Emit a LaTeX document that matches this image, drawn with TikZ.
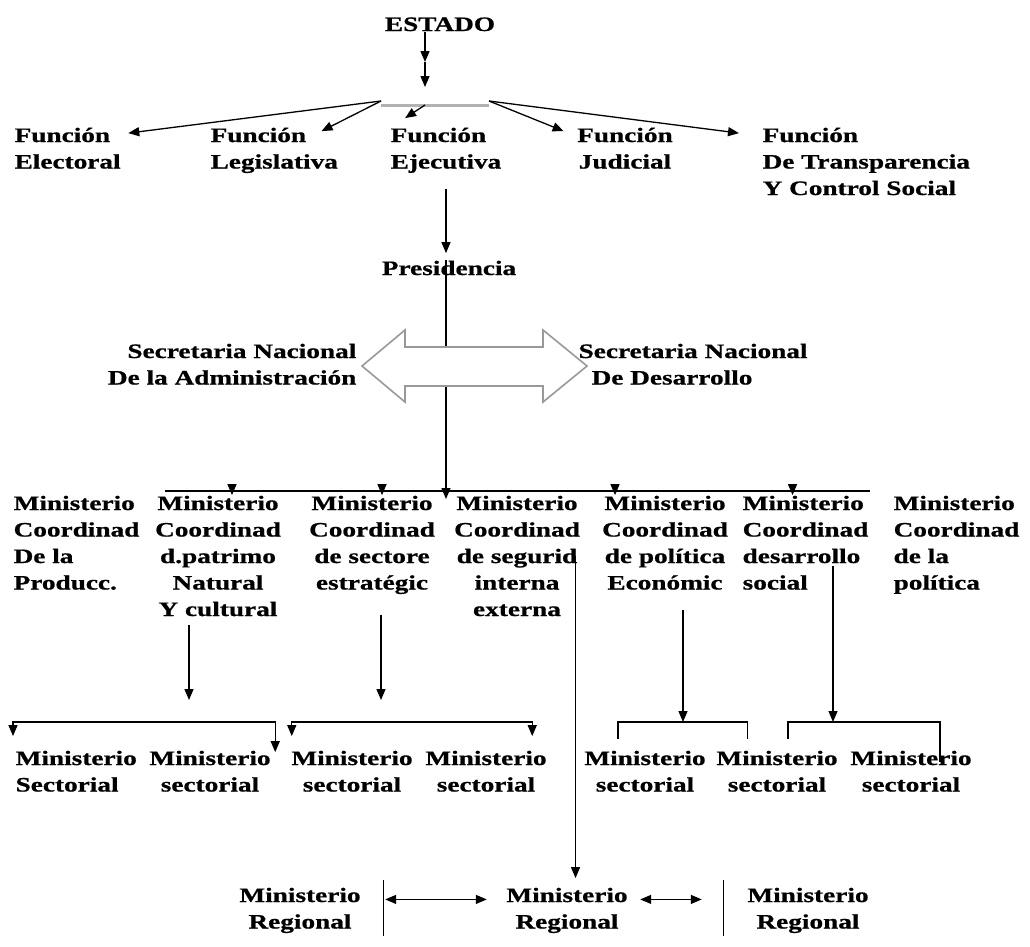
\documentclass[tikz,border=0pt]{standalone}
\usepackage{fontspec}
\setmainfont{Liberation Serif}[FakeStretch=1.33,BoldFeatures={FakeBold=0.8}]
\usetikzlibrary{arrows.meta,calc}

\begin{document}
\begin{tikzpicture}[x=1pt,y=-1pt,line width=1.3pt,>={Triangle[length=11pt,width=9pt]},
    every node/.style={inner sep=0pt,font=\bfseries\fontsize{20.5}{26.5}\selectfont}]
    \useasboundingbox (0,0) rectangle (1030,946);
    % estado y funciones
    \node[anchor=base] (E) at (440,31) {ESTADO};
    \node[anchor=base west,align=left] (F1) at (14,168.5) {Función\\Electoral};
    \node[anchor=base west,align=left] (F2) at (210,168.5) {Función\\Legislativa};
    \node[anchor=base,align=left] (F3) at (446,168.5) {Función\\Ejecutiva};
    \node[anchor=base,align=center] (F4) at (625,168.5) {Función\\Judicial};
    \node[anchor=base west,align=left] (F5) at (762,195) {Función\\De Transparencia\\Y Control Social};
    \coordinate (B) at (425,105);
    \coordinate (BL) at (381,101);
    \coordinate (BR) at (489,101);
    \coordinate (E1) at (425,62);
    \draw[->] (E.south -| B) -- (E1);
    \draw[->] (E1) -- ($(B)+(0,-18)$);
    \draw[gray!60,line width=3pt] (BL |- B) -- (BR |- B);
    \draw[->] (BL) -- ($(F1.north east)+(7,6)$);
    \draw[->] (BL) -- ($(F2.north east)+(-17,4)$);
    \draw[->] (B) -- ($(F3.north west)+(15,-9)$);
    \draw[->] (BR) -- ($(F4.north west)+(-13,4)$);
    \draw[->] (BR) -- ($(F5.north west)+(-23,6)$);

    % presidencia y secretarias
    \node[anchor=base] (P) at (449,275) {Presidencia};
    \coordinate (BM1) at (165,491);
    \coordinate (BM2) at (870,491);
    \draw[->] ($(F3.south)+(0,15)$) -- ($(F3.south |- P.north)+(0,-7)$);
    \draw[->] (F3.south |- P.north) -- ($(F3.south |- BM1)+(0,8)$);
    \draw[gray!80,line width=1.6pt,fill=white] (362,366) -- (405,330) -- (405,347) -- (543,347) -- (543,330)
        -- (587,366) -- (543,402) -- (543,386) -- (405,386) -- (405,402) -- cycle;
    \node[anchor=base east,align=right] (S1) at (357,384.5) {Secretaria Nacional\\De la Administración};
    \node[anchor=base west,align=left] (S2) at (578,384.5) {Secretaria Nacional\\\hspace*{13pt}De Desarrollo};

    % ministerios coordinadores
    \draw (BM1) -- (BM2);
    \node[anchor=base west,align=left] (M1) at (13,589.5) {Ministerio\\Coordinad\\De la\\Producc.};
    \node[anchor=base,align=center] (M2) at (218,616) {Ministerio\\Coordinad\\d.patrimo\\Natural\\Y cultural};
    \node[anchor=base,align=center] (M3) at (372,589.5) {Ministerio\\Coordinad\\de sectore\\estratégic};
    \node[anchor=base,align=center] (M4) at (517,616) {Ministerio\\Coordinad\\de segurid\\interna\\externa};
    \node[anchor=base,align=center] (M5) at (665,589.5) {Ministerio\\Coordinad\\de política\\Económic};
    \node[anchor=base west,align=left] (M6) at (742,589.5) {Ministerio\\Coordinad\\desarrollo\\social};
    \node[anchor=base west,align=left] (M7) at (893,589.5) {Ministerio\\Coordinad\\de la\\política};
    \foreach \n/\dx in {M2/14,M3/10,M5/-50,M6/-13}
        \draw[->] ($(\n.north |- BM1)+(\dx,0)$) -- ($(\n.north)+(\dx,0)$);

    % ministerios sectoriales
    \node[anchor=base west,align=left] (MS1) at (15,791.5) {Ministerio\\Sectorial};
    \foreach \n/\x in {2/210,3/352,4/486,5/645,6/777,7/911}
        \node[anchor=base,align=center] (MS\n) at (\x,791.5) {Ministerio\\sectorial};
    \coordinate (K1) at (189,722);
    \coordinate (K2) at (381,722);
    \coordinate (K3) at (683,722);
    \coordinate (K4) at (833,722);
    \draw[->] ($(K1 |- M2.south)+(0,8)$) -- ($(K1)+(0,-22)$);
    \draw[->] ($(K2 |- M3.south)+(0,20)$) -- ($(K2)+(0,-22)$);
    \draw[->] ($(K3 |- M5.south)+(0,20)$) -- (K3);
    \draw[->] ($(K4 |- M6.south)+(0,-24)$) -- (K4);
    \draw[<->] ($(MS1.north west)+(-2,-14)$) |- (K1) -| ($(MS2.north east)+(4,2)$);
    \draw[<->] ($(MS3.north west)+(1,-14)$) |- (K2) -| ($(MS4.north east)+(-15,-14)$);
    \draw ($(MS5.north)+(-27,-11)$) |- (K3) -| ($(MS6.north west)+(32,-11)$);
    \draw ($(MS6.north)+(11,-11)$) |- (K4) -| ($(MS7.north)+(29,12)$);

    % ministerios regionales
    \node[anchor=base,align=center] (R1) at (300,928.5) {Ministerio\\Regional};
    \node[anchor=base,align=center] (R2) at (567,928.5) {Ministerio\\Regional};
    \node[anchor=base,align=center] (R3) at (808,928.5) {Ministerio\\Regional};
    \draw[->] ($(M4.east)+(-5,0)$) -- ($(M4.east |- R2.north)+(-5,-9)$);
    \draw ($(R1.north east)+(22,-7)$) -- ($(R1.south east)+(22,2)$);
    \draw[<->] ($(R1.east)+(24,-11)$) -- ($(R2.west)+(-19,-11)$);
    \draw[<->] ($(R2.east)+(12,-11)$) -- ($(R3.west)+(-45,-11)$);
    \draw ($(R3.north west)+(-23,-7)$) -- ($(R3.south west)+(-23,2)$);
\end{tikzpicture}
\end{document}
